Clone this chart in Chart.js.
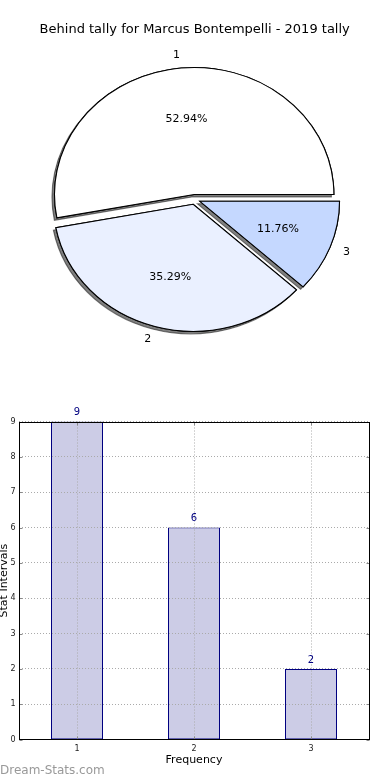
<!DOCTYPE html>
<html><head><meta charset="utf-8">
<script src="https://cdn.jsdelivr.net/npm/chart.js@4.4.0/dist/chart.umd.min.js"></script>
<style>
html,body{margin:0;padding:0;background:#fff;width:390px;height:780px;overflow:hidden;}
#pieWrap{position:absolute;left:0;top:0;width:390px;height:380px;}
#barWrap{position:absolute;left:0;top:395px;width:390px;height:385px;}
#wm{position:absolute;left:0;top:763px;font:12px 'DejaVu Sans',sans-serif;line-height:14px;color:#999999;}
</style></head><body>
<div id="pieWrap"><canvas id="pie" width="390" height="380"></canvas></div>
<div id="barWrap"><canvas id="bar" width="390" height="385"></canvas></div>
<div id="wm">Dream-Stats.com</div>
<script>
// ---- data ----
const chartTitle = 'Behind tally for Marcus Bontempelli - 2019 tally';
const categories = ['1', '2', '3'];
const tallyValues = [9, 6, 2];
const sliceColors = ['#ffffff', '#eaf0ff', '#c5d8ff'];
const yTickMax = 9;
const xAxisTitle = 'Frequency';
const yAxisTitle = 'Stat Intervals';

Chart.defaults.font.family = "'DejaVu Sans', sans-serif";

const total = tallyValues.reduce((a, b) => a + b, 0);
const percentLabels = tallyValues.map(v => (v / total * 100).toFixed(2) + '%');

// ---- pie (matplotlib style: counter-clockwise from east, exploded, shadowed, elliptical) ----
const SX = 1.10;      // horizontal stretch of the pie
const EXPLODE = 5;    // explode distance
const revIdx = i => categories.length - 1 - i;

const piePlugin = {
  id: 'ellipsePie',
  beforeDatasetsDraw(chart) {
    const ctx = chart.ctx;
    const meta = chart.getDatasetMeta(0);
    const cx = meta.data[0].x, cy = meta.data[0].y;
    const pass = (shadow) => {
      meta.data.forEach(el => {
        const mid = (el.startAngle + el.endAngle) / 2;
        ctx.save();
        ctx.translate(cx, cy); ctx.scale(SX, 1); ctx.translate(-cx, -cy);
        ctx.translate(Math.cos(mid) * EXPLODE, Math.sin(mid) * EXPLODE);
        if (shadow) {
          ctx.shadowColor = 'rgba(0,0,0,0.5)';
          ctx.shadowOffsetX = -2.5;
          ctx.shadowOffsetY = 2.5;
          ctx.shadowBlur = 0.5;
        }
        el.draw(ctx);
        ctx.restore();
      });
    };
    pass(true);
    pass(false);
    return false;
  },
  afterDraw(chart) {
    const ctx = chart.ctx;
    const meta = chart.getDatasetMeta(0);
    const cx = meta.data[0].x, cy = meta.data[0].y;
    ctx.save();
    ctx.fillStyle = '#000';
    ctx.font = "11px 'DejaVu Sans', sans-serif";
    ctx.textBaseline = 'middle';
    meta.data.forEach((el, i) => {
      const k = revIdx(i);
      const mid = (el.startAngle + el.endAngle) / 2;
      const c = Math.cos(mid), s = Math.sin(mid);
      const R = el.outerRadius;
      const rl = 1.1 * R + EXPLODE;
      ctx.textAlign = c >= 0 ? 'left' : 'right';
      ctx.fillText(categories[k], cx + SX * c * rl, cy + s * rl);
      const rp = 0.6 * R + EXPLODE;
      ctx.textAlign = 'center';
      ctx.fillText(percentLabels[k], cx + SX * c * rp, cy + s * rp);
    });
    ctx.restore();
  }
};

new Chart(document.getElementById('pie'), {
  type: 'pie',
  data: {
    labels: categories.slice().reverse(),
    datasets: [{
      data: tallyValues.slice().reverse(),
      backgroundColor: sliceColors.slice().reverse(),
      borderColor: '#000',
      borderWidth: 1,
      borderJoinStyle: 'miter',
      radius: 127
    }]
  },
  options: {
    responsive: false,
    animation: false,
    rotation: 90,
    layout: { padding: { top: 0, bottom: 18.8, left: 0, right: 0.6 } },
    plugins: {
      legend: { display: false },
      tooltip: { enabled: false },
      title: {
        display: true, text: chartTitle, color: '#000',
        font: { size: 13, weight: 'normal', lineHeight: 1.2 },
        padding: { top: 22.2, bottom: 0 }
      }
    }
  },
  plugins: [piePlugin]
});

// ---- bar chart ----
const framePlugin = {
  id: 'frame',
  afterDraw(chart) {
    const ctx = chart.ctx;
    const a = chart.chartArea;
    const l = Math.round(a.left) + 0.5, r = Math.round(a.right) - 0.5;
    const t = Math.round(a.top) + 0.5, b = Math.round(a.bottom) - 0.5;
    ctx.save();
    // inward tick marks
    ctx.strokeStyle = '#888';
    ctx.lineWidth = 1;
    const ys = chart.scales.y, xs = chart.scales.x;
    ys.ticks.forEach((tk, i) => {
      const y = Math.round(ys.getPixelForTick(i)) + 0.5;
      ctx.beginPath();
      ctx.moveTo(l, y); ctx.lineTo(l + 3, y);
      ctx.moveTo(r, y); ctx.lineTo(r - 3, y);
      ctx.stroke();
    });
    xs.ticks.forEach((tk, i) => {
      const x = Math.round(xs.getPixelForTick(i)) + 0.5;
      ctx.beginPath();
      ctx.moveTo(x, b); ctx.lineTo(x, b - 3);
      ctx.moveTo(x, t); ctx.lineTo(x, t + 3);
      ctx.stroke();
    });
    ctx.strokeStyle = '#000';
    ctx.strokeRect(l, t, r - l, b - t);
    // value labels
    const meta = chart.getDatasetMeta(0);
    ctx.fillStyle = '#000080';
    ctx.font = "10px 'DejaVu Sans', sans-serif";
    ctx.textAlign = 'center';
    ctx.textBaseline = 'middle';
    meta.data.forEach((el, i) => {
      ctx.fillText(String(tallyValues[i]), el.x, el.y - 9);
    });
    ctx.restore();
  }
};

new Chart(document.getElementById('bar'), {
  type: 'bar',
  data: {
    labels: categories,
    datasets: [{
      data: tallyValues,
      backgroundColor: '#ccccE6',
      borderColor: '#000080',
      borderWidth: 1,
      borderSkipped: false,
      barPercentage: 52 / 117,
      categoryPercentage: 1
    }]
  },
  options: {
    responsive: false,
    animation: false,
    layout: { padding: { top: 26.5, right: 20.5, left: 0, bottom: 0 } },
    plugins: { legend: { display: false }, tooltip: { enabled: false } },
    scales: {
      x: {
        grid: { offset: false, color: '#aaaaaa', drawTicks: false, lineWidth: 1, z: 1 },
        border: { display: false, dash: [1, 2] },
        ticks: { color: '#222', font: { size: 8 }, padding: 4 },
        title: { display: true, text: xAxisTitle, color: '#000', font: { size: 11 }, padding: { top: 0, bottom: 13.4 } },
        afterFit(s) { s.height = 40.3; }
      },
      y: {
        min: 0, max: yTickMax,
        ticks: { stepSize: 1, color: '#222', font: { size: 8 }, padding: 3 },
        grid: { color: '#aaaaaa', drawTicks: false, lineWidth: 1, z: 1 },
        border: { display: false, dash: [1, 2] },
        title: { display: true, text: yAxisTitle, color: '#000', font: { size: 11, lineHeight: 0.8 }, padding: 0 },
        afterFit(s) { s.width = 18.5; }
      }
    }
  },
  plugins: [framePlugin]
});
</script>
</body></html>
